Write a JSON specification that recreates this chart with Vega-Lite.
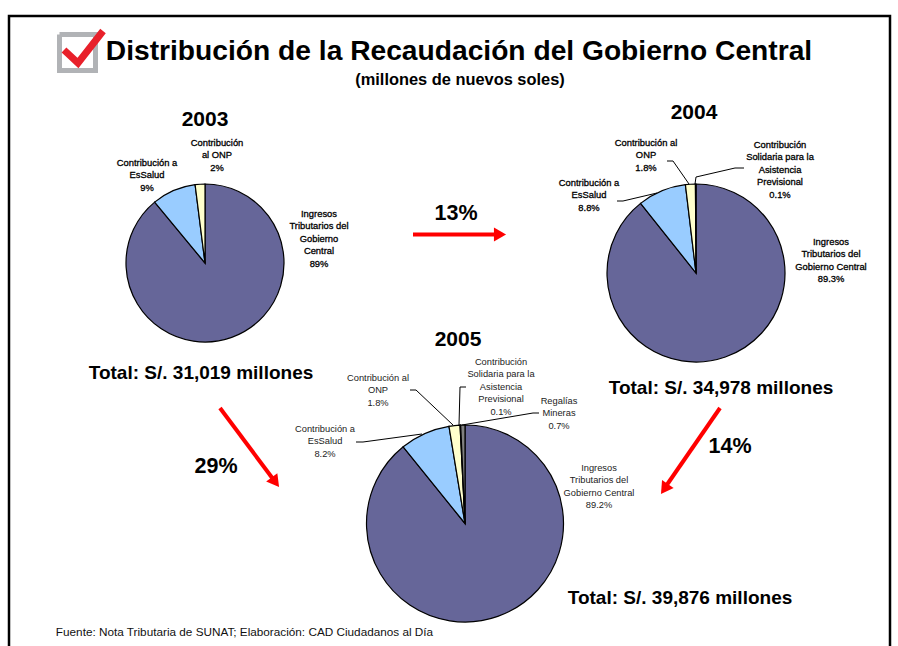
{"$schema":"https://vega.github.io/schema/vega-lite/v6.json","width":898,"height":646,"padding":0,"autosize":"none","background":"white","config":{"view":{"stroke":null},"axis":{"disable":true}},
"datasets":{
"pies":[
{"year":2003,"orden":1,"categoria":"Ingresos Tributarios del Gobierno Central","share":89},
{"year":2003,"orden":2,"categoria":"Contribución a EsSalud","share":9},
{"year":2003,"orden":3,"categoria":"Contribución al ONP","share":2},
{"year":2004,"orden":1,"categoria":"Ingresos Tributarios del Gobierno Central","share":89.3},
{"year":2004,"orden":2,"categoria":"Contribución a EsSalud","share":8.8},
{"year":2004,"orden":3,"categoria":"Contribución al ONP","share":1.8},
{"year":2004,"orden":4,"categoria":"Contribución Solidaria para la Asistencia Previsional","share":0.1},
{"year":2005,"orden":1,"categoria":"Ingresos Tributarios del Gobierno Central","share":89.2},
{"year":2005,"orden":2,"categoria":"Contribución a EsSalud","share":8.2},
{"year":2005,"orden":3,"categoria":"Contribución al ONP","share":1.8},
{"year":2005,"orden":4,"categoria":"Contribución Solidaria para la Asistencia Previsional","share":0.1},
{"year":2005,"orden":5,"categoria":"Regalías Mineras","share":0.7}
],
"trazos":[
{"n":1,"id":"marco","tipo":"marco"},{"n":2,"id":"marco","tipo":"marco"},{"n":3,"id":"marco","tipo":"marco"},{"n":4,"id":"marco","tipo":"marco"},
{"n":5,"id":"casilla","tipo":"casilla"},{"n":6,"id":"casilla","tipo":"casilla"},{"n":7,"id":"casilla","tipo":"casilla"},{"n":8,"id":"casilla","tipo":"casilla"},{"n":9,"id":"casilla","tipo":"casilla"},
{"n":10,"id":"check","tipo":"check"},{"n":11,"id":"check","tipo":"check"},{"n":12,"id":"check","tipo":"check"},
{"n":13,"id":"f1","tipo":"flecha"},{"n":14,"id":"f1","tipo":"flecha"},
{"n":15,"id":"f2","tipo":"flecha"},{"n":16,"id":"f2","tipo":"flecha"},
{"n":17,"id":"f3","tipo":"flecha"},{"n":18,"id":"f3","tipo":"flecha"},
{"n":19,"id":"g1","tipo":"guia"},{"n":20,"id":"g1","tipo":"guia"},{"n":21,"id":"g1","tipo":"guia"},
{"n":22,"id":"g2","tipo":"guia"},{"n":23,"id":"g2","tipo":"guia"},{"n":24,"id":"g2","tipo":"guia"},{"n":25,"id":"g2","tipo":"guia"},
{"n":26,"id":"g3","tipo":"guia"},{"n":27,"id":"g3","tipo":"guia"},{"n":28,"id":"g3","tipo":"guia"},
{"n":29,"id":"g4","tipo":"guia"},{"n":30,"id":"g4","tipo":"guia"},{"n":31,"id":"g4","tipo":"guia"},
{"n":32,"id":"g5","tipo":"guia"},{"n":33,"id":"g5","tipo":"guia"},{"n":34,"id":"g5","tipo":"guia"},
{"n":35,"id":"g6","tipo":"guia"},{"n":36,"id":"g6","tipo":"guia"},{"n":37,"id":"g6","tipo":"guia"},
{"n":38,"id":"g7","tipo":"guia"},{"n":39,"id":"g7","tipo":"guia"},{"n":40,"id":"g7","tipo":"guia"}
],
"puntas":[{"n":1},{"n":2},{"n":3}],
"negritas":[
{"n":1,"clase":"titulo","t":"Distribución de la Recaudación del Gobierno Central"},
{"n":2,"clase":"subtitulo","t":"(millones de nuevos soles)"},
{"n":3,"clase":"anio","t":"2003"},{"n":4,"clase":"anio","t":"2004"},{"n":5,"clase":"anio","t":"2005"},
{"n":6,"clase":"total","t":"Total: S/. 31,019 millones"},{"n":7,"clase":"total","t":"Total: S/. 34,978 millones"},{"n":8,"clase":"total","t":"Total: S/. 39,876 millones"},
{"n":9,"clase":"cambio","t":"13%"},{"n":10,"clase":"cambio","t":"29%"},{"n":11,"clase":"cambio","t":"14%"}
],
"etiquetas":[
{"n":1,"grupo":"a","t":"Contribución\nal ONP\n2%"},
{"n":2,"grupo":"a","t":"Contribución a\nEsSalud\n9%"},
{"n":3,"grupo":"a","t":"Ingresos\nTributarios del\nGobierno\nCentral\n89%"},
{"n":4,"grupo":"a","t":"Contribución al\nONP\n1.8%"},
{"n":5,"grupo":"a","t":"Contribución\nSolidaria para la\nAsistencia\nPrevisional\n0.1%"},
{"n":6,"grupo":"a","t":"Contribución a\nEsSalud\n8.8%"},
{"n":7,"grupo":"a","t":"Ingresos\nTributarios del\nGobierno Central\n89.3%"},
{"n":8,"grupo":"b","t":"Contribución al\nONP\n1.8%"},
{"n":9,"grupo":"b","t":"Contribución\nSolidaria para la\nAsistencia\nPrevisional\n0.1%"},
{"n":10,"grupo":"b","t":"Regalías\nMineras\n0.7%"},
{"n":11,"grupo":"b","t":"Contribución a\nEsSalud\n8.2%"},
{"n":12,"grupo":"b","t":"Ingresos\nTributarios del\nGobierno Central\n89.2%"},
{"n":13,"grupo":"c","t":"Fuente: Nota Tributaria de SUNAT; Elaboración: CAD Ciudadanos al Día"}
]},
"resolve":{"scale":{"x":"independent","y":"independent","color":"independent","size":"independent","stroke":"independent"}},
"layer":[
{"data":{"name":"trazos"},"mark":{"type":"line","strokeJoin":"miter","strokeCap":"butt","clip":false},
"encoding":{
"x":{"field":"n","type":"quantitative","axis":null,"scale":{"zero":false,"nice":false,"domain":[1,2,3,4,5,6,7,8,9,10,11,12,13,14,15,16,17,18,19,20,21,22,23,24,25,26,27,28,29,30,31,32,33,34,35,36,37,38,39,40],"range":[9,9,890,890,59.5,95.5,95.5,59.5,59.5,64,78,103,413,497,220,276,720,664,667,673,689,744,735,696,695,617,623,657,410,416,453,466,460,459,539,533,462,356,363,422]}},
"y":{"field":"n","type":"quantitative","axis":null,"scale":{"zero":false,"nice":false,"domain":[1,2,3,4,5,6,7,8,9,10,11,12,13,14,15,16,17,18,19,20,21,22,23,24,25,26,27,28,29,30,31,32,33,34,35,36,37,38,39,40],"range":[646,16,16,646,34.5,34.5,70.5,70.5,34.5,50,63,31,234.5,234.5,408,483,408,489,161,161,184,168,168,177,184,201,201,193,390,390,425,387,387,425,413,413,425,442,442,434]}},
"detail":{"field":"id"},"order":{"field":"n"},
"color":{"field":"tipo","type":"nominal","legend":null,"scale":{"domain":["marco","casilla","check","flecha","guia"],"range":["#000000","#b1b3b6","#e8202a","#ff0000","#000000"]}},
"strokeWidth":{"field":"tipo","type":"nominal","legend":null,"scale":{"type":"ordinal","domain":["marco","casilla","check","flecha","guia"],"range":[2.5,5,7,4,1]}}
}},
{"data":{"name":"puntas"},"mark":{"type":"point","shape":"triangle-up","filled":true,"color":"#ff0000","opacity":1},
"encoding":{
"x":{"field":"n","type":"quantitative","axis":null,"scale":{"zero":false,"nice":false,"domain":[1,2,3],"range":[500,275.4,664.4]}},
"y":{"field":"n","type":"quantitative","axis":null,"scale":{"zero":false,"nice":false,"domain":[1,2,3],"range":[234.5,482.2,489]}},
"angle":{"field":"n","type":"quantitative","legend":null,"scale":{"zero":false,"nice":false,"domain":[1,2,3],"range":[90,142.8,214.5]}},
"size":{"value":196}
}},
{"data":{"name":"pies"},"transform":[{"stack":"share","groupby":["year"],"sort":[{"field":"orden","order":"ascending"}],"as":["ini","fin"]}],
"mark":{"type":"arc","stroke":"#000000","strokeWidth":1.2,"strokeJoin":"miter"},
"encoding":{
"x":{"field":"year","type":"quantitative","axis":null,"scale":{"zero":false,"nice":false,"domain":[2003,2004,2005],"range":[205,696,465]}},
"y":{"field":"year","type":"quantitative","axis":null,"scale":{"zero":false,"nice":false,"domain":[2003,2004,2005],"range":[263,273,523.5]}},
"theta":{"field":"ini","type":"quantitative","scale":{"domain":[0,100],"nice":false,"zero":false}},
"theta2":{"field":"fin"},
"radius":{"field":"year","type":"quantitative","scale":{"zero":false,"nice":false,"domain":[2003,2004,2005],"range":[79,89,98.5]}},
"radius2":{"value":0},
"color":{"field":"categoria","type":"nominal","legend":null,"scale":{"domain":["Ingresos Tributarios del Gobierno Central","Contribución a EsSalud","Contribución al ONP","Contribución Solidaria para la Asistencia Previsional","Regalías Mineras"],"range":["#666699","#99ccff","#ffffcc","#660066","#808080"]}}
}},
{"data":{"name":"etiquetas"},"mark":{"type":"text","font":"Liberation Sans","align":"center","baseline":"middle","lineBreak":"\n","lineHeight":12.4,"strokeWidth":0.3},
"encoding":{
"x":{"field":"n","type":"quantitative","axis":null,"scale":{"zero":false,"nice":false,"domain":[1,2,3,4,5,6,7,8,9,10,11,12,13],"range":[217,147,319,646,780,589,831,378,501,559,325,599,244.5]}},
"y":{"field":"n","type":"quantitative","axis":null,"scale":{"zero":false,"nice":false,"domain":[1,2,3,4,5,6,7,8,9,10,11,12,13],"range":[143,163,214,143,145,183,242,378,362,401,429,468,632]}},
"text":{"field":"t"},
"size":{"field":"grupo","type":"nominal","legend":null,"scale":{"type":"ordinal","domain":["a","b","c"],"range":[9.4,9.3,11.75]}},
"color":{"field":"grupo","type":"nominal","legend":null,"scale":{"domain":["a","b","c"],"range":["#000000","#222222","#111111"]}},
"stroke":{"field":"grupo","type":"nominal","legend":null,"scale":{"domain":["a","b","c"],"range":["#000000","transparent","transparent"]}}
}},
{"data":{"name":"negritas"},"mark":{"type":"text","font":"Liberation Sans","fontWeight":"bold","align":"center","baseline":"middle","color":"#000000"},
"encoding":{
"x":{"field":"n","type":"quantitative","axis":null,"scale":{"zero":false,"nice":false,"domain":[1,2,3,4,5,6,7,8,9,10,11],"range":[459,460,205,694,458,201,721,680,456,216,730]}},
"y":{"field":"n","type":"quantitative","axis":null,"scale":{"zero":false,"nice":false,"domain":[1,2,3,4,5,6,7,8,9,10,11],"range":[52,80,120,113,340,373,388,598,214,467,447]}},
"text":{"field":"t"},
"size":{"field":"clase","type":"nominal","legend":null,"scale":{"type":"ordinal","domain":["titulo","subtitulo","anio","total","cambio"],"range":[28.2,16.4,21,19,21.5]}}
}}
]}
